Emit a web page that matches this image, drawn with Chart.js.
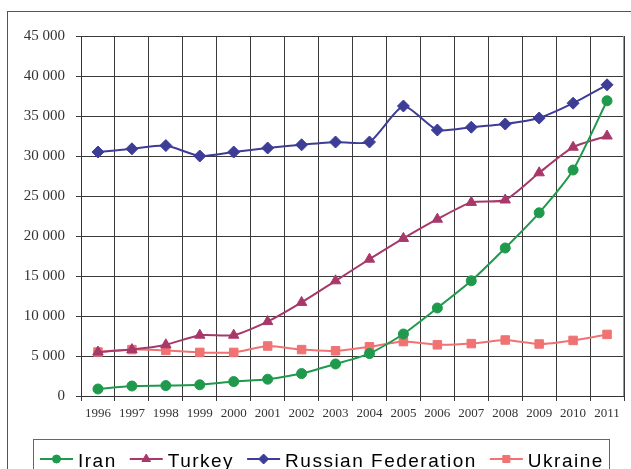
<!DOCTYPE html>
<html>
<head>
<meta charset="utf-8">
<script src="https://cdn.jsdelivr.net/npm/chart.js@4.4.1/dist/chart.umd.min.js"></script>
<style>
  body { margin: 0; background: #fff; }
  #wrap { width: 631px; height: 469px; }
</style>
</head>
<body>
<div id="wrap"><canvas id="myChart" width="631" height="469"></canvas></div>
<script>
// values
const years = ['1996','1997','1998','1999','2000','2001','2002','2003','2004','2005','2006','2007','2008','2009','2010','2011'];
const iran = [875, 1250, 1300, 1400, 1800, 2100, 2800, 4000, 5300, 7750, 11000, 14400, 18500, 22900, 28250, 36900];
const turkey = [5500, 5800, 6400, 7600, 7600, 9300, 11700, 14400, 17100, 19700, 22100, 24200, 24500, 27900, 31100, 32500];
const russia = [30500, 30900, 31300, 30000, 30500, 31000, 31400, 31750, 31750, 36250, 33250, 33600, 34000, 34750, 36600, 38900];
const ukraine = [5500, 5800, 5700, 5450, 5450, 6250, 5800, 5650, 6150, 6800, 6400, 6550, 7000, 6500, 6950, 7700];

function fmt(v) {
    return String(v).replace(/\B(?=(\d{3})+(?!\d))/g, ' ');
}

// frame round the whole picture
const framePlugin = {
    id: 'frame',
    beforeDraw(chart) {
        const ctx = chart.ctx;
        ctx.save();
        ctx.fillStyle = '#fff';
        ctx.fillRect(0, 0, chart.width, chart.height);
        ctx.strokeStyle = '#555';
        ctx.lineWidth = 1;
        ctx.strokeRect(7.5, 11.5, 700, 600);
        ctx.restore();
    },
    afterDraw(chart) {
        // lighter border on the right of the plot
        const a = chart.chartArea;
        const ctx = chart.ctx;
        ctx.save();
        ctx.strokeStyle = '#999';
        ctx.beginPath();
        ctx.moveTo(Math.round(a.right) - 0.5, a.top);
        ctx.lineTo(Math.round(a.right) - 0.5, a.bottom);
        ctx.stroke();
        ctx.restore();
    }
};

// legend in a box, line + marker like the original
const boxLegend = {
    id: 'boxLegend',
    afterDraw(chart) {
        const ctx = chart.ctx;
        ctx.save();
        ctx.strokeStyle = '#666';
        ctx.lineWidth = 1;
        ctx.strokeRect(33.5, 439.5, 576, 60);
        ctx.font = '19px "Liberation Sans", Arial, sans-serif';
        ctx.letterSpacing = '1.5px';
        ctx.textBaseline = 'alphabetic';
        let x = 40;
        const y = 459;
        chart.data.datasets.forEach(ds => {
            ctx.strokeStyle = ds.borderColor;
            ctx.lineWidth = 2;
            ctx.beginPath();
            ctx.moveTo(x, y);
            ctx.lineTo(x + 33, y);
            ctx.stroke();
            ctx.fillStyle = ds.backgroundColor;
            ctx.lineWidth = 1;
            Chart.helpers.drawPoint(ctx, {
                pointStyle: ds.pointStyle,
                radius: ds.pointRadius - 1,
                borderWidth: 1
            }, x + 16.5, y);
            ctx.fillStyle = '#000';
            ctx.fillText(ds.label, x + 38, 467);
            x += 38 + ctx.measureText(ds.label).width + 13;
        });
        ctx.restore();
    }
};

const data = {
    labels: years,
    datasets: [
        { label: 'Iran', data: iran, borderColor: '#1f9a4c', backgroundColor: '#1f9a4c', pointStyle: 'circle', pointRadius: 5 },
        { label: 'Turkey', data: turkey, borderColor: '#a8386a', backgroundColor: '#a8386a', pointStyle: 'triangle', pointRadius: 6 },
        { label: 'Russian Federation', data: russia, borderColor: '#3d3d98', backgroundColor: '#3d3d98', pointStyle: 'rectRot', pointRadius: 6 },
        { label: 'Ukraine', data: ukraine, borderColor: '#f07272', backgroundColor: '#f07272', pointStyle: 'rect', pointRadius: 6 }
    ]
};
data.datasets.forEach(ds => {
    ds.borderWidth = 2;
    ds.tension = 0.2;
    ds.pointBorderWidth = 1;
    ds.pointHoverRadius = ds.pointRadius;
});

const config = {
    type: 'line',
    data: data,
    options: {
        responsive: false,
        animation: false,
        layout: { padding: { left: 0, right: 4, top: 36, bottom: 0 } },
        plugins: { legend: { display: false }, tooltip: { enabled: false } },
        scales: {
            x: {
                offset: true,
                afterFit(scale) { scale.height = 73; },
                grid: { offset: true, color: '#3a3a3a', lineWidth: 1, tickLength: 5, drawTicks: true },
                border: { color: '#333' },
                ticks: { color: '#333', padding: 5, maxRotation: 0, autoSkip: false,
                         font: { family: '"Liberation Serif", "Times New Roman", serif', size: 13 } }
            },
            y: {
                min: 0, max: 45000,
                afterFit(scale) { scale.width = 81; },
                grid: { color: '#3a3a3a', lineWidth: 1, tickLength: 5 },
                border: { color: '#333' },
                ticks: { stepSize: 5000, color: '#333', padding: 11,
                         font: { family: '"Liberation Serif", "Times New Roman", serif', size: 15 },
                         callback: v => fmt(v) }
            }
        }
    },
    plugins: [framePlugin, boxLegend]
};

var myChart = new Chart(document.getElementById('myChart'), config);
</script>
</body>
</html>
